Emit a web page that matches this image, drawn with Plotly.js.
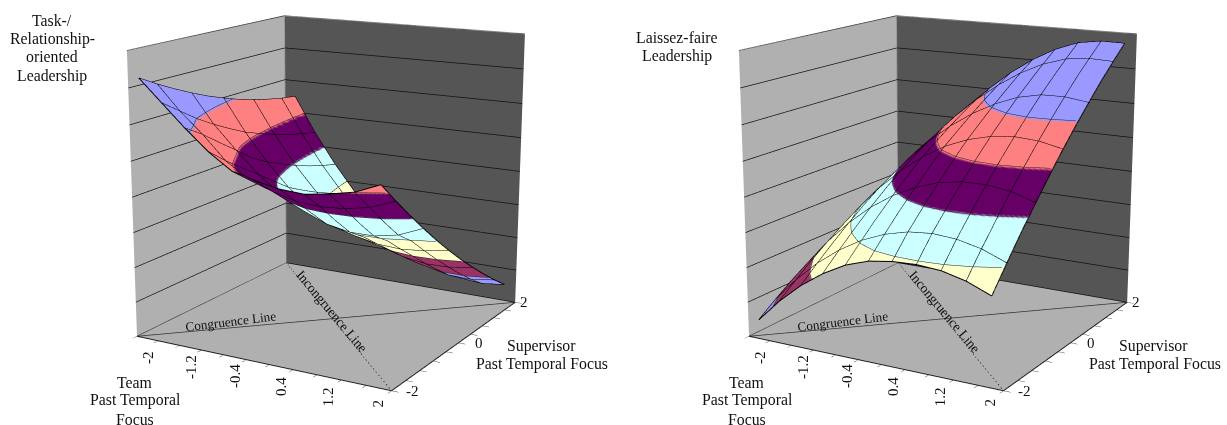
<!DOCTYPE html>
<html><head><meta charset="utf-8">
<script src="https://cdn.plot.ly/plotly-3.0.1.min.js"></script>
<style>html,body{margin:0;padding:0;background:#fff;overflow:hidden;width:1227px;height:425px}#w{position:absolute;left:0;top:0;width:1227px;height:425px;overflow:hidden}#g{position:absolute;left:0;top:-390px;width:1227px}</style>
</head><body><div id="w"><div id="g"></div></div><script>
const teamValues=[-2,-1.6,-1.2,-0.8,-0.4,0,0.4,0.8,1.2,1.6,2];
const supervisorValues=[-2,-1.6,-1.2,-0.8,-0.4,0,0.4,0.8,1.2,1.6,2];
const supervisorWireRows=[0,1,3,5,7,9,10];
const teamTickLabels=[-2,-1.2,-0.4,0.4,1.2,2];
const supervisorTickLabels=[-2,0,2];
const levelTicks=[0,1,2,3,4,5,6,7,8];
const taskSurface=[
[7.30,6.70,6.10,5.55,5.12,4.95,4.82,4.78,4.88,5.02,5.30],
[7.01,6.34,5.78,5.14,4.72,4.50,4.33,4.28,4.32,4.45,4.71],
[6.75,5.99,5.40,4.78,4.35,4.05,3.82,3.72,3.74,3.87,4.15],
[6.51,5.69,5.04,4.43,3.96,3.60,3.33,3.20,3.20,3.33,3.61],
[6.29,5.42,4.65,4.07,3.57,3.20,2.97,2.86,2.86,2.96,3.09],
[6.10,5.17,4.38,3.71,3.20,2.84,2.60,2.46,2.42,2.48,2.60],
[5.93,4.98,4.15,3.45,2.88,2.47,2.24,2.07,2.00,2.02,2.13],
[5.79,4.80,3.94,3.21,2.61,2.16,1.87,1.67,1.57,1.58,1.69],
[5.67,4.65,3.76,3.00,2.37,1.87,1.52,1.29,1.17,1.16,1.27],
[5.57,4.53,3.61,2.82,2.16,1.62,1.22,0.94,0.79,0.77,0.87],
[5.50,4.42,3.48,2.66,1.96,1.40,0.96,0.66,0.48,0.42,0.50]];
const laissezSurface=[
[0.55,1.22,1.78,2.23,2.58,2.80,2.90,2.93,2.88,2.72,2.45],
[0.91,1.60,2.19,2.67,3.05,3.32,3.49,3.55,3.50,3.35,3.09],
[1.25,1.97,2.58,3.09,3.50,3.80,3.99,4.08,4.06,3.93,3.71],
[1.55,2.30,2.95,3.49,3.92,4.24,4.47,4.58,4.59,4.50,4.29],
[1.84,2.61,3.29,3.85,4.31,4.67,4.92,5.06,5.10,5.03,4.86],
[2.10,2.90,3.60,4.19,4.68,5.07,5.34,5.51,5.58,5.54,5.40],
[2.33,3.16,3.87,4.48,4.98,5.40,5.71,5.93,6.04,6.02,5.91],
[2.53,3.40,4.12,4.75,5.28,5.72,6.07,6.33,6.47,6.48,6.39],
[2.72,3.60,4.35,5.00,5.55,6.02,6.40,6.69,6.87,6.92,6.86],
[2.87,3.79,4.55,5.22,5.80,6.30,6.72,7.04,7.25,7.32,7.29],
[3.00,3.95,4.72,5.40,6.00,6.55,7.00,7.36,7.61,7.71,7.70]];
const bandColors=['#9999FF','#993366','#FFFFCC','#CCFFFF','#660066','#FF8080','#9999FF','#9999FF'];
const teamCellEdges=[-2.2,-1.8,-1.4,-1,-0.6,-0.2,0.2,0.6,1,1.4,1.8,2.2];

// The reference has long-lens perspective: the plot is taller than the window and clipped to it.
const LH=1206,topOff=390;
const camera={eye:{x:2.441,y:-4.312,z:1.241},center:{x:0.12,y:-0.38,z:0},up:{x:0.113,y:-0.186,z:1},projection:{type:'perspective'}};
const aspect={x:0.995,y:1,z:1};

function stepScale(){const s=[];bandColors.forEach((c,i)=>{s.push([i/8,c],[(i+1)/8,c])});return s}
function surf(z,scene){return {type:'surface',scene,x:teamValues,y:supervisorValues,z,surfacecolor:z,cmin:0,cmax:8,colorscale:stepScale(),showscale:false,hoverinfo:'skip',
 lighting:{ambient:1,diffuse:0,specular:0,roughness:1,fresnel:0},
 contours:{z:{show:true,start:1,end:7,size:1,color:'#222',width:1,highlight:false}}}}
function line(xs,ys,zs,scene,color,w,dash){return {type:'scatter3d',mode:'lines',scene,x:xs,y:ys,z:zs,line:{color,width:w,dash:dash||'solid'},hoverinfo:'skip',showlegend:false}}
function wires(z,scene){const c='#000',o=[];
 teamValues.forEach((t,i)=>o.push(line(supervisorValues.map(()=>t),supervisorValues,z.map(r=>r[i]),scene,c,2)));
 supervisorWireRows.forEach(j=>o.push(line(teamValues,teamValues.map(()=>supervisorValues[j]),z[j],scene,c,2)));
 return o}
function frame(scene){return [
 line([-2.2,2.2],[-2,2],[0,0],scene,'#333',1.5),
 line([-2.2,2.2],[2,-2],[0,0],scene,'#222',1.5,'dash'),
 line([-2.2,2.2,2.2],[-2,-2,2],[0,0,0],scene,'#222',2),
 line([-2.2,-2.2,2.2],[-2,2,2],[8,8,8],scene,'#888',2),
 line([-2.2,-2.2,-2.2],[-2,2,2],[0,0,8],scene,'#888',1.5)]}
const ax=(extra)=>Object.assign({showspikes:false,zeroline:false,showticklabels:false,title:{text:''},showline:false},extra);
const tickFont={family:'Liberation Serif',size:15,color:'#111'};
function scene(dom){return {domain:{x:dom,y:[0,1]},camera,aspectmode:'manual',aspectratio:aspect,dragmode:false,
 xaxis:ax({range:[-2.2,2.2],tickmode:'array',tickvals:teamCellEdges,ticks:'outside',ticklen:6,tickcolor:'#222',showgrid:false,showbackground:true,backgroundcolor:'#b0b0b0'}),
 yaxis:ax({range:[-2,2],tickmode:'array',tickvals:supervisorValues,ticks:'outside',ticklen:6,tickcolor:'#222',showgrid:false,showbackground:true,backgroundcolor:'#555555'}),
 zaxis:ax({range:[0,8],tickmode:'array',tickvals:levelTicks,ticks:'',showgrid:true,gridcolor:'#111',gridwidth:1.5,showbackground:true,backgroundcolor:'#b0b0b0'}),
 annotations:[
  ...teamTickLabels.map(t=>({x:t,y:-2,z:0,text:String(t),showarrow:false,textangle:-90,font:tickFont,yshift:t===2?-15:-19})),
  ...supervisorTickLabels.map(s=>({x:2.2,y:s,z:0,text:String(s),showarrow:false,font:tickFont,xshift:s===2?9:21,yshift:0}))
 ]}}
const T=(text,px,py,extra)=>Object.assign({xref:'paper',yref:'paper',x:px/1227,y:1-(py+topOff)/LH,text,showarrow:false,xanchor:'center',yanchor:'middle',font:{family:'Liberation Serif',size:15.8,color:'#111'}},extra||{});
const dx=612.5;
function labels(off){return [T('Team',135+off,382),T('Past Temporal',135+off,400),T('Focus',135+off,419),T('Supervisor',541+off,346),T('Past Temporal Focus',542+off,364),
 T('Congruence Line',230+off,321,{textangle:-7,font:{family:'Liberation Serif',size:13.2,color:'#111'}}),
 T('Incongruence Line',332+off,311,{textangle:50,font:{family:'Liberation Serif',size:13.6,color:'#111'}})]}
const annotations=[T('Task-/',52,20),T('Relationship-',52,39),T('oriented',52,57),T('Leadership',52,76),T('Laissez-faire',677,37),T('Leadership',677,56),...labels(0),...labels(dx)];
const data=[surf(taskSurface,'scene'),...wires(taskSurface,'scene'),...frame('scene'),surf(laissezSurface,'scene2'),...wires(laissezSurface,'scene2'),...frame('scene2')];
Plotly.newPlot('g',data,{width:1227,height:LH,margin:{l:0,r:0,t:0,b:0},paper_bgcolor:'#fff',showlegend:false,scene:scene([0,0.5]),scene2:scene([0.4988,0.9988]),annotations},{displayModeBar:false});
</script></body></html>
